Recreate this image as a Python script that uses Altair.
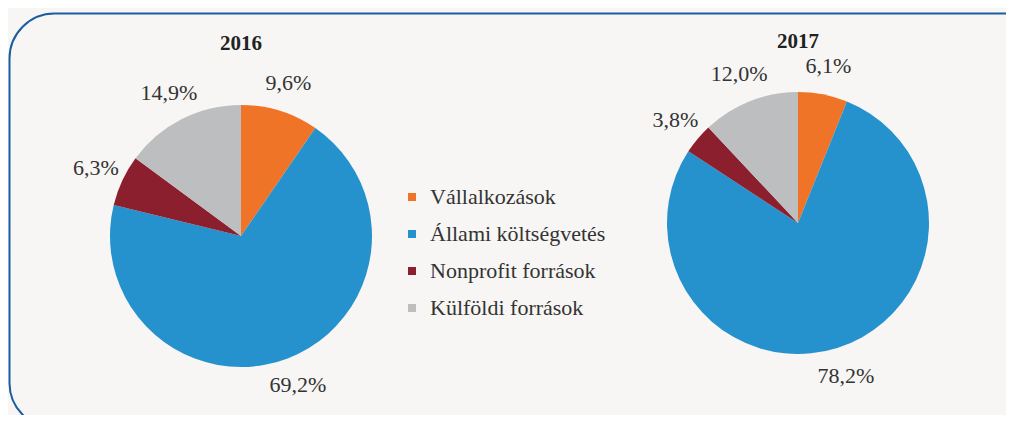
import math
import altair as alt
import pandas as pd

years = ["2016", "2017"]
categories = ["Vállalkozások", "Állami költségvetés", "Nonprofit források", "Külföldi források"]
colors = ["#f07427", "#2592cd", "#8c1f2d", "#bcbec0"]
values_2016 = [9.6, 69.2, 6.3, 14.9]
values_2017 = [6.1, 78.2, 3.8, 12.0]

rows = []
for year, vals in zip(years, [values_2016, values_2017]):
    for i, (cat, v) in enumerate(zip(categories, vals)):
        rows.append({
            "year": year,
            "category": cat,
            "order": i,
            "value": v,
            "label": f"{v:.1f}".replace(".", ",") + "%",
        })
df = pd.DataFrame(rows)

FONT = "Liberation Serif"
theta_scale = alt.Scale(domain=[0, 1], range=[0, 2 * math.pi])
x_enc = alt.X("year:N", scale=alt.Scale(type="point", padding=0, domain=years, range=[233, 790]), axis=None)
y_enc = alt.Y("year:N", scale=alt.Scale(type="point", padding=0, domain=years, range=[228, 215]), axis=None)

base = (
    alt.Chart(df)
    .transform_joinaggregate(total="sum(value)", groupby=["year"])
    .transform_window(cum="sum(value)", groupby=["year"],
                      sort=[alt.SortField("order")], frame=[None, 0])
    .transform_calculate(
        start="(datum.cum - datum.value) / datum.total",
        end="datum.cum / datum.total",
        mid="(datum.cum - datum.value / 2) / datum.total",
    )
)

arcs = base.mark_arc(radius=131).encode(
    theta=alt.Theta("start:Q", scale=theta_scale, stack=False),
    theta2="end:Q",
    color=alt.Color(
        "category:N",
        scale=alt.Scale(domain=categories, range=colors),
        sort=categories,
        legend=alt.Legend(
            title=None, orient="none", legendX=393, legendY=178,
            symbolType="square", symbolSize=64, symbolStrokeWidth=0,
            labelFont=FONT, labelFontSize=22, labelColor="#333333",
            rowPadding=15, labelOffset=7, padding=0, labelLimit=300,
        ),
    ),
    x=x_enc,
    y=y_enc,
)

labels = base.mark_text(radius=160, font=FONT, fontSize=22, color="#333333",
                        align="center", baseline="middle").encode(
    theta=alt.Theta("mid:Q", scale=theta_scale, stack=False),
    text="label:N",
    x=x_enc,
    y=y_enc,
)

titles_df = pd.DataFrame({"year": years})
titles = alt.Chart(titles_df).mark_text(
    font=FONT, fontSize=21, fontWeight="bold", color="#222222", baseline="middle"
).encode(
    text="year:N",
    x=x_enc,
    y=alt.Y("year:N", scale=alt.Scale(type="point", padding=0, domain=years, range=[36, 34]), axis=None),
)

frame = alt.Chart(pd.DataFrame({"k": [0]})).mark_rect(
    fill="transparent", stroke="#1b5e9f", strokeWidth=2, cornerRadius=45
).encode(
    x=alt.value(1.5), x2=alt.value(1100), y=alt.value(5.5), y2=alt.value(420)
)

chart = (
    alt.layer(frame, arcs, labels, titles)
    .resolve_scale(y="independent")
    .properties(width=998, height=407, padding=0,
                autosize=alt.AutoSizeParams(type="none"))
    .configure(background="#f7f6f4")
    .configure_view(stroke=None)
)

chart.save("out.html", embed_options={"renderer": "svg", "actions": False})
